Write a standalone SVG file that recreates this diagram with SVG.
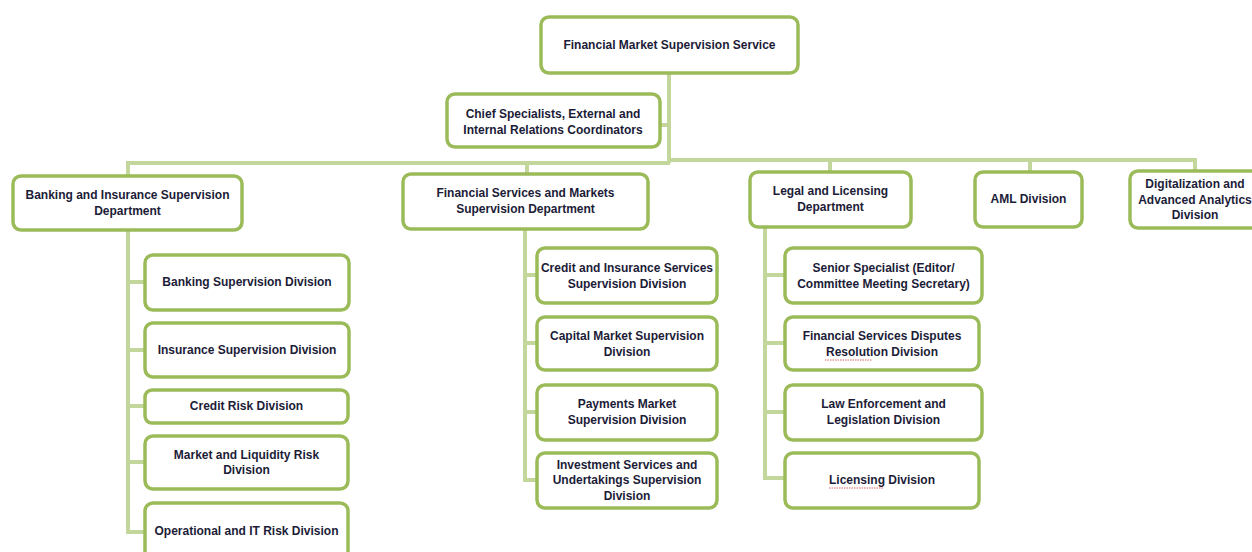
<svg xmlns="http://www.w3.org/2000/svg" width="1252" height="552" viewBox="0 0 1252 552">
<style>
.box{fill:#fff;stroke:#9bbb59;stroke-width:3.5}
.ln{fill:none;stroke:#c3d69b;stroke-width:4}
text{font-family:"Liberation Sans",Arial,sans-serif;font-weight:bold;font-size:12px;fill:#1c1c38;text-anchor:middle}
.sq{stroke:#e06060;stroke-width:1;stroke-dasharray:1.5 1}
</style>
<rect width="1252" height="552" fill="#fff"/>
<g id="connectors">
<path class="ln" d="M669 73V163M660 125H669M128 230V163H670M527 174V163M670 160H1195V171M830 172V160M1030 172V160"/>
<path class="ln" d="M128 230V532H145M128 282H145M128 350H145M128 406H145M128 462H145"/>
<path class="ln" d="M525 229V480H537M525 275H537M525 343H537M525 412H537"/>
<path class="ln" d="M765 227V478H785M765 275H785M765 343H785M765 412H785"/>
</g>
<g id="n-fmss"><rect class="box" x="541" y="17" width="257" height="56" rx="8"/><text x="669.5" y="49">Financial Market Supervision Service</text></g>
<g id="n-chief"><rect class="box" x="447" y="94" width="213" height="53" rx="8"/><text x="553" y="118">Chief Specialists, External and</text><text x="553" y="134">Internal Relations Coordinators</text></g>
<g id="n-bisd"><rect class="box" x="13" y="176" width="229" height="54" rx="8"/><text x="127.5" y="199">Banking and Insurance Supervision</text><text x="127.5" y="215">Department</text></g>
<g id="n-fsmsd"><rect class="box" x="403" y="174" width="245" height="55" rx="8"/><text x="525.5" y="197">Financial Services and Markets</text><text x="525.5" y="213">Supervision Department</text></g>
<g id="n-legal"><rect class="box" x="750" y="172" width="161" height="55" rx="8"/><text x="830.5" y="195">Legal and Licensing</text><text x="830.5" y="211">Department</text></g>
<g id="n-aml"><rect class="box" x="975" y="172" width="107" height="55" rx="8"/><text x="1028.5" y="203">AML Division</text></g>
<g id="n-digital"><rect class="box" x="1130" y="171" width="140" height="57" rx="8"/><text x="1195" y="188">Digitalization and</text><text x="1195" y="204">Advanced Analytics</text><text x="1195" y="219">Division</text></g>
<g id="n-bsd"><rect class="box" x="145" y="255" width="204" height="55" rx="8"/><text x="247" y="286">Banking Supervision Division</text></g>
<g id="n-isd"><rect class="box" x="145" y="323" width="204" height="54" rx="8"/><text x="247" y="354">Insurance Supervision Division</text></g>
<g id="n-crd"><rect class="box" x="145" y="390" width="203" height="33" rx="7"/><text x="246.5" y="410">Credit Risk Division</text></g>
<g id="n-mlrd"><rect class="box" x="145" y="436" width="203" height="53" rx="8"/><text x="246.5" y="459">Market and Liquidity Risk</text><text x="246.5" y="474">Division</text></g>
<g id="n-oird"><rect class="box" x="145" y="503" width="203" height="60" rx="8"/><text x="246.5" y="535">Operational and IT Risk Division</text></g>
<g id="n-cissd"><rect class="box" x="537" y="248" width="180" height="55" rx="8"/><text x="627" y="272">Credit and Insurance Services</text><text x="627" y="288">Supervision Division</text></g>
<g id="n-cmsd"><rect class="box" x="537" y="317" width="180" height="53" rx="8"/><text x="627" y="340">Capital Market Supervision</text><text x="627" y="356">Division</text></g>
<g id="n-pmsd"><rect class="box" x="537" y="385" width="180" height="55" rx="8"/><text x="627" y="408">Payments Market</text><text x="627" y="424">Supervision Division</text></g>
<g id="n-isusd"><rect class="box" x="537" y="453" width="180" height="55" rx="8"/><text x="627" y="469">Investment Services and</text><text x="627" y="484">Undertakings Supervision</text><text x="627" y="500">Division</text></g>
<g id="n-senior"><rect class="box" x="785" y="248" width="197" height="55" rx="8"/><text x="883.5" y="272">Senior Specialist (Editor/</text><text x="883.5" y="288">Committee Meeting Secretary)</text></g>
<g id="n-fsdrd"><rect class="box" x="785" y="317" width="194" height="53" rx="8"/><text x="882" y="340">Financial Services Disputes</text><text x="882" y="356">Resolution Division</text><path class="sq" d="M825 360H872"/></g>
<g id="n-lerd"><rect class="box" x="785" y="385" width="197" height="55" rx="8"/><text x="883.5" y="408">Law Enforcement and</text><text x="883.5" y="424">Legislation Division</text></g>
<g id="n-lic"><rect class="box" x="785" y="453" width="194" height="55" rx="8"/><text x="882" y="484">Licensing Division</text><path class="sq" d="M829 488H884"/></g>
</svg>
